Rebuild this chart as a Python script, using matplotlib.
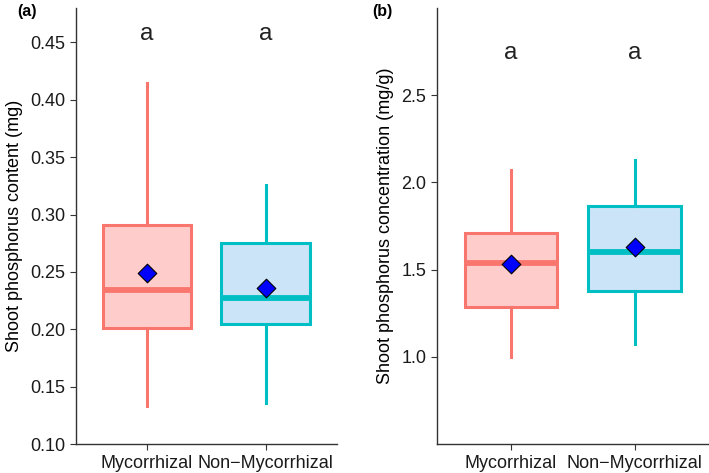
import numpy as np
import matplotlib
matplotlib.use("Agg")
import matplotlib.pyplot as plt

plt.rcParams.update({"font.family": ["Liberation Sans", "DejaVu Sans"], "font.size": 12})

SALMON = "#F8766D"; SALMON_F = "#FFCCCC"
CYAN = "#00BFC4"; CYAN_F = "#CCE4F8"

groups = ["Mycorrhizal", "Non\u2212Mycorrhizal"]
letters = ["a", "a"]

# panel (a): shoot phosphorus content (mg)
a_wlo = [0.133, 0.136]
a_q1 = [0.201, 0.205]
a_med = [0.234, 0.227]
a_q3 = [0.291, 0.275]
a_whi = [0.415, 0.326]
a_mean = [0.249, 0.236]

# panel (b): shoot phosphorus concentration (mg/g)
b_wlo = [0.998, 1.072]
b_q1 = [1.285, 1.376]
b_med = [1.540, 1.603]
b_q3 = [1.709, 1.863]
b_whi = [2.074, 2.130]
b_mean = [1.533, 1.631]

fig = plt.figure(figsize=(7.09, 4.73), dpi=100)
axa = fig.add_axes([0.107, 0.061, 0.368, 0.922])
axb = fig.add_axes([0.616, 0.061, 0.384, 0.922])


def boxpanel(ax, wlo, q1, med, q3, whi, mean, ylim, yticks, ylab, lety):
    stats = []
    for i in range(len(groups)):
        stats.append(dict(whislo=wlo[i], q1=q1[i], med=med[i], q3=q3[i], whishi=whi[i],
                          mean=mean[i], fliers=[], label=groups[i]))
    bp = ax.bxp(stats, positions=[1, 2], widths=0.75, patch_artist=True,
                showcaps=False, showmeans=False, manage_ticks=False)
    cols = [SALMON, CYAN]; fills = [SALMON_F, CYAN_F]
    for i in range(2):
        bp["boxes"][i].set(facecolor=fills[i], edgecolor=cols[i], linewidth=2.2)
        bp["medians"][i].set(color=cols[i], linewidth=4.2, solid_capstyle="butt")
        for w in bp["whiskers"][2 * i:2 * i + 2]:
            w.set(color=cols[i], linewidth=2.2)
    ax.scatter([1, 2], mean, marker="D", s=90, color="#0000FF", edgecolor="black",
               linewidth=0.8, zorder=5)
    for i, l in enumerate(letters):
        ax.text(i + 1, lety, l, ha="center", va="center", fontsize=17.5, color="#222222")
    ax.set_xlim(0.4, 2.6)
    ax.set_ylim(*ylim)
    ax.set_yticks(yticks)
    ax.set_xticks([1, 2])
    ax.set_xticklabels(groups, fontsize=13)
    ax.set_ylabel(ylab, fontsize=13, labelpad=5)
    for s in ["top", "right"]:
        ax.spines[s].set_visible(False)
    for s in ["left", "bottom"]:
        ax.spines[s].set_color("#333333"); ax.spines[s].set_linewidth(1.0)
    ax.tick_params(labelsize=13, length=4, color="#333333", labelcolor="#1a1a1a")


boxpanel(axa, a_wlo, a_q1, a_med, a_q3, a_whi, a_mean, (0.10, 0.48),
         [0.10, 0.15, 0.20, 0.25, 0.30, 0.35, 0.40, 0.45], "Shoot phosphorus content (mg)", 0.457)
axa.set_yticklabels(["%.2f" % v for v in axa.get_yticks()])
boxpanel(axb, b_wlo, b_q1, b_med, b_q3, b_whi, b_mean, (0.5, 3.0),
         [1.0, 1.5, 2.0, 2.5], "Shoot phosphorus concentration (mg/g)", 2.74)
axb.set_yticklabels(["%.1f" % v for v in axb.get_yticks()])

fig.text(0.024, 0.975, "(a)", fontsize=11.5, fontweight="bold", va="center")
fig.text(0.525, 0.975, "(b)", fontsize=11.5, fontweight="bold", va="center")

fig.savefig("out.png", dpi=100)
